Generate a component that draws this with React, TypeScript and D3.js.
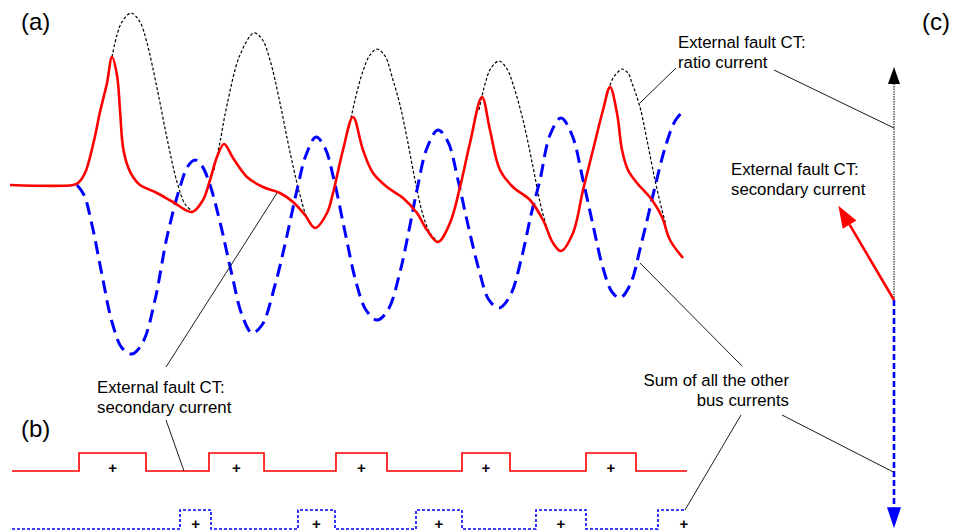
import React from 'react';
import * as d3 from 'd3';

// (a) waveforms: t in ms after fault inception, i in per unit
const secondaryCurrent: [number, number][] = [
  [-10.9, 0], [-0.65, 0], [0.16, 0.02], [1.3, 0.12], [2.6, 0.4], [3.74, 0.73], [4.88, 1.02], [5.69, 1.28],
  [6.5, 1.1], [6.99, 0.75], [7.48, 0.38], [8.29, 0.18], [9.11, 0.08], [10.24, 0], [13.01, -0.08],
  [15.61, -0.17], [18.7, -0.27], [20.49, -0.15], [21.63, 0.05], [22.76, 0.28], [23.9, 0.41],
  [25.37, 0.27], [27.64, 0.08], [30.24, -0.02], [33.01, -0.08], [35.12, -0.17], [37.07, -0.3],
  [38.7, -0.43], [40.65, -0.28], [41.63, -0.08], [43.25, 0.35], [44.88, 0.68], [46.5, 0.35],
  [48.13, 0.12], [50.41, -0.02], [53.01, -0.13], [55.28, -0.28], [56.91, -0.45], [58.7, -0.57],
  [60.65, -0.38], [62.28, -0.02], [63.9, 0.42], [65.85, 0.88], [67.15, 0.55], [68.78, 0.15],
  [70.89, -0.02], [73.66, -0.15], [75.77, -0.35], [77.4, -0.58], [78.7, -0.66], [80.65, -0.48],
  [82.28, -0.05], [83.9, 0.35], [85.53, 0.75], [86.67, 0.98], [87.8, 0.72], [88.62, 0.35],
  [89.59, 0.15], [91.06, 0.02], [93.5, -0.15], [95.12, -0.32], [96.42, -0.55], [98.54, -0.73],
];

// ratio current, only the parts where it leaves the secondary current
const ratioCurrent: [number, number][][] = [
  [[5.69, 1.28], [6.5, 1.5], [7.32, 1.63], [8.78, 1.72], [10.24, 1.63], [11.38, 1.42], [13.01, 0.97],
    [14.63, 0.47], [16.26, 0.03], [17.56, -0.19], [18.7, -0.26]],
  [[22.28, 0.15], [23.25, 0.43], [24.39, 0.8], [26.5, 1.3], [28.78, 1.52], [30.08, 1.46], [31.38, 1.25],
    [33.01, 0.82], [34.63, 0.33], [36.26, -0.1], [37.56, -0.35], [38.7, -0.43]],
  [[44.23, 0.57], [45.2, 0.85], [46.5, 1.14], [47.64, 1.3], [48.78, 1.36], [50.08, 1.29], [51.38, 1.05],
    [52.52, 0.8], [53.66, 0.47], [54.96, 0.05], [56.26, -0.3], [57.4, -0.48], [58.7, -0.57]],
  [[65.37, 0.75], [66.34, 1.01], [67.32, 1.17], [68.62, 1.24], [69.92, 1.16], [70.89, 1.01],
    [72.52, 0.65], [74.15, 0.18], [75.28, -0.17], [76.42, -0.43], [77.4, -0.58]],
  [[86.02, 0.85], [87.0, 1.05], [87.8, 1.12], [88.62, 1.16], [89.59, 1.12], [90.24, 1.02], [91.54, 0.78],
    [92.68, 0.45], [93.98, 0.05], [95.12, -0.25], [95.77, -0.4]],
];

const otherBusCurrents: [number, number][] = [
  [0, 0], [1.14, -0.1], [2.44, -0.4], [4.07, -0.9], [5.69, -1.37], [7.32, -1.63], [8.94, -1.69],
  [10.73, -1.57], [12.68, -1.15], [14.63, -0.52], [16.75, -0.02], [18.05, 0.19], [19.19, 0.25],
  [20.33, 0.19], [21.63, 0], [23.25, -0.37], [25.2, -0.9], [26.83, -1.3], [28.46, -1.48], [30.08, -1.4],
  [32.2, -1.0], [33.98, -0.55], [35.77, -0.05], [37.24, 0.3], [38.86, 0.48], [40.33, 0.37], [41.79, 0.05],
  [43.58, -0.47], [45.37, -0.97], [46.99, -1.25], [48.78, -1.35], [50.57, -1.25], [52.52, -0.87],
  [54.15, -0.4], [55.28, -0.05], [56.91, 0.37], [58.7, 0.55], [60.33, 0.43], [61.95, 0.05], [63.58, -0.4],
  [65.37, -0.85], [66.99, -1.15], [68.62, -1.23], [70.41, -1.11], [72.2, -0.75], [73.82, -0.3],
  [75.28, 0.05], [76.91, 0.5], [78.7, 0.67], [80.49, 0.5], [82.28, 0.05], [83.9, -0.4], [85.53, -0.83],
  [87.0, -1.07], [88.29, -1.13], [89.92, -1.0], [91.71, -0.6], [93.98, -0.02], [95.61, 0.37],
  [97.24, 0.64], [98.7, 0.75],
];

// (b) polarity pulses [start, end] in ms
const secondaryPulses: [number, number][] = [[0.33, 11.22], [21.46, 30.41], [42.11, 50.41], [62.6, 70.41], [82.76, 90.89]];
const secondarySpan: [number, number] = [-10.57, 99.19];
const busPulses: [number, number][] = [[16.75, 21.79], [35.93, 41.95], [55.12, 62.6], [74.63, 82.76], [94.47, 102.93]];
const busSpan: [number, number] = [-10.57, 98.86];

// (c) phasors: magnitude (p.u. of ratio current), angle in degrees
const ratioPhasor = { mag: 1.0, angle: 90 };
const secondaryPhasor = { mag: 0.47, angle: 120.5 };
const busPhasor = { mag: 0.98, angle: -90 };

const font = 'Liberation Sans, Arial, sans-serif';

const x = d3.scaleLinear().domain([0, 100]).range([77, 692]);
const y = d3.scaleLinear().domain([0, 1]).range([185, 85]);
const redRow = d3.scaleLinear().domain([0, 1]).range([471, 453]);
const blueRow = d3.scaleLinear().domain([0, 1]).range([529, 510]);
const mag = d3.scaleLinear().domain([0, 1]).range([0, 233]);
const origin = { x: 894, y: 300 };

const wave = d3.line<[number, number]>().x(d => x(d[0])).y(d => y(d[1])).curve(d3.curveCatmullRom.alpha(0.5));

function steps(pulses: [number, number][], span: [number, number]) {
  const pts: [number, number][] = [[span[0], 0]];
  pulses.forEach(([a, b]) => {
    if (a > span[1]) return;
    pts.push([a, 0], [a, 1]);
    if (b < span[1]) pts.push([b, 1], [b, 0]);
    else pts.push([span[1], 1]);
  });
  if (pts[pts.length - 1][1] === 0) pts.push([span[1], 0]);
  return pts;
}

function tip(p: { mag: number; angle: number }, frac = 1) {
  const r = (p.angle * Math.PI) / 180;
  const len = mag(p.mag) * frac;
  return { x: origin.x + len * Math.cos(r), y: origin.y - len * Math.sin(r), dx: Math.cos(r), dy: -Math.sin(r) };
}

function Phasor({ p, color, width, dash, head, half }: any) {
  const t = tip(p);
  const bx = t.x - t.dx * head;
  const by = t.y - t.dy * head;
  const nx = -t.dy, ny = t.dx;
  return (
    <g>
      <line x1={origin.x} y1={origin.y} x2={bx} y2={by} stroke={color} strokeWidth={width} strokeDasharray={dash} />
      <polygon points={`${t.x},${t.y} ${bx + nx * half},${by + ny * half} ${bx - nx * half},${by - ny * half}`} fill={color} />
    </g>
  );
}

function Label({ lines, px, py, anchor = 'start' }: { lines: string[]; px: number; py: number; anchor?: string }) {
  return (
    <text x={px} y={py} fontFamily={font} fontSize={16.8} textAnchor={anchor} fill="#000">
      {lines.map((l, i) => (
        <tspan key={i} x={px} dy={i === 0 ? 0 : 19.5}>{l}</tspan>
      ))}
    </text>
  );
}

export default function App() {
  const redSq = d3.line<[number, number]>().x(d => x(d[0])).y(d => redRow(d[1]));
  const blueSq = d3.line<[number, number]>().x(d => x(d[0])).y(d => blueRow(d[1]));
  const ratioAnchor = tip(ratioPhasor, 0.738);
  const busAnchor = tip(busPhasor, 0.755);

  return (
    <svg width={953} height={531} style={{ position: 'absolute', left: 0, top: 0, background: '#fff' }}>
      {/* (a) */}
      {ratioCurrent.map((seg, i) => (
        <path key={i} d={wave(seg) || ''} fill="none" stroke="#000" strokeWidth={1.2} strokeDasharray="3,2" />
      ))}
      <path d={wave(otherBusCurrents) || ''} fill="none" stroke="#0000ff" strokeWidth={3} strokeDasharray="13,7" />
      <path d={wave(secondaryCurrent) || ''} fill="none" stroke="#ff0000" strokeWidth={2.6} strokeLinejoin="round" />

      {/* (b) */}
      <path d={redSq(steps(secondaryPulses, secondarySpan)) || ''} fill="none" stroke="#ff0000" strokeWidth={1.6} />
      <path d={blueSq(steps(busPulses, busSpan)) || ''} fill="none" stroke="#0000ff" strokeWidth={1.6} strokeDasharray="3,2" />
      {secondaryPulses.map(([a, b], i) => (
        <text key={'r' + i} x={x((a + b) / 2)} y={redRow(0) + 1.5} textAnchor="middle" fontFamily={font} fontSize={15} fontWeight="bold">+</text>
      ))}
      {busPulses.map(([a, b], i) => (
        <text key={'b' + i} x={x((a + b) / 2)} y={blueRow(0) - 0.5} textAnchor="middle" fontFamily={font} fontSize={15} fontWeight="bold">+</text>
      ))}

      {/* (c) */}
      <Phasor p={ratioPhasor} color="#000" width={1} dash="1.5,1" head={17} half={6} />
      <Phasor p={busPhasor} color="#0000ff" width={2.6} dash="6,3" head={21} half={7} />
      <Phasor p={secondaryPhasor} color="#ff0000" width={2.6} head={22} half={8} />

      {/* leaders */}
      <g stroke="#000" strokeWidth={0.9}>
        <line x1={676} y1={68} x2={x(91.54)} y2={y(0.82)} />
        <line x1={774} y1={70} x2={ratioAnchor.x} y2={ratioAnchor.y} />
        <line x1={166} y1={367} x2={x(32.52)} y2={y(-0.08)} />
        <line x1={166} y1={420} x2={x(17.4)} y2={redRow(0)} />
        <line x1={742} y1={366} x2={x(91.54)} y2={y(-0.78)} />
        <line x1={741} y1={415} x2={x(busSpan[1])} y2={blueRow(1)} />
        <line x1={782} y1={415} x2={busAnchor.x} y2={busAnchor.y} />
      </g>

      <Label lines={['External fault CT:', 'ratio current']} px={678} py={48} />
      <Label lines={['External fault CT:', 'secondary current']} px={731} py={175} />
      <Label lines={['External fault CT:', 'secondary current']} px={97} py={393} />
      <Label lines={['Sum of all the other', 'bus currents']} px={789} py={386} anchor="end" />

      <text x={21} y={30} fontFamily={font} fontSize={24}>(a)</text>
      <text x={21} y={437} fontFamily={font} fontSize={24}>(b)</text>
      <text x={922} y={30} fontFamily={font} fontSize={24}>(c)</text>
    </svg>
  );
}
